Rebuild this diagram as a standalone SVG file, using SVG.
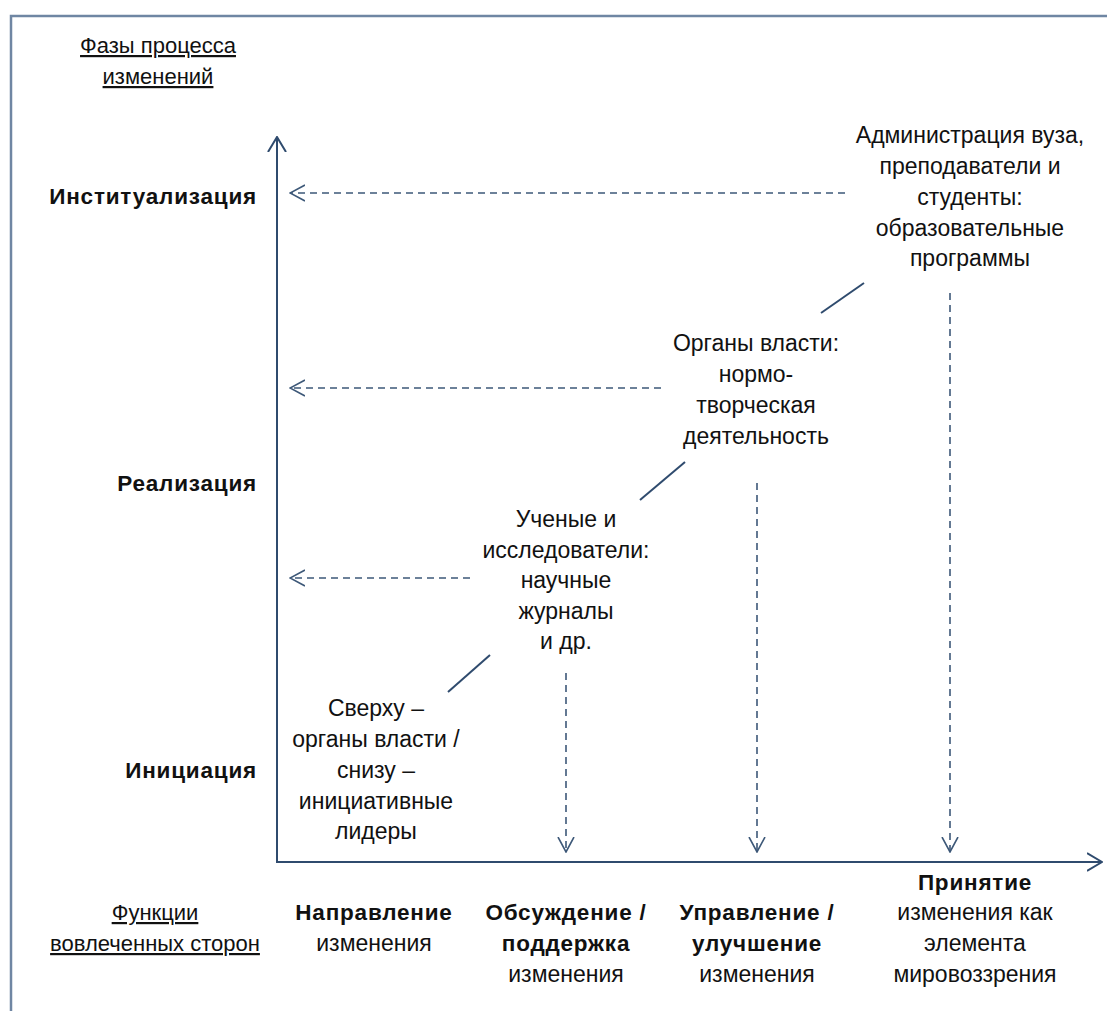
<svg xmlns="http://www.w3.org/2000/svg" width="1107" height="1011" viewBox="0 0 1107 1011">
  <defs>
    <style>
      text { font-family: "Liberation Sans", Arial, sans-serif; font-size: 23px; fill: #111; text-anchor: middle; }
      .b { font-weight: bold; font-size: 22.5px; letter-spacing: 0.8px; }
      .r { text-anchor: end; }
      .u { text-decoration: underline; font-size: 22px; }
      .axis { stroke: #2f4b6e; stroke-width: 2; fill: none; }
      .dash { stroke: #3d5878; stroke-width: 1.6; stroke-dasharray: 7 5; fill: none; }
      .tie { stroke: #2f4b6e; stroke-width: 2; fill: none; }
      .frame { stroke: #6f86a3; stroke-width: 2.5; fill: none; }
    </style>
    <marker id="open" viewBox="0 0 16 20" refX="15" refY="10" markerWidth="16" markerHeight="20" markerUnits="userSpaceOnUse" orient="auto">
      <path d="M0,1 L15,10 L0,19" fill="none" stroke="#2f4b6e" stroke-width="2"/>
    </marker>
    <marker id="openD" viewBox="0 0 16 18" refX="15" refY="9" markerWidth="16" markerHeight="18" markerUnits="userSpaceOnUse" orient="auto">
      <path d="M0,1 L15,9 L0,17" fill="none" stroke="#3d5878" stroke-width="1.6"/>
    </marker>
  </defs>

  <!-- outer frame -->
  <path class="frame" d="M11,1011 V16 H1107"/>

  <!-- axis titles -->
  <g id="phases-title">
    <text class="u" x="158" y="53">Фазы процесса </text>
    <text class="u" x="158" y="84">изменений</text>
  </g>
  <g id="functions-title">
    <text class="u" x="155" y="920">Функции </text>
    <text class="u" x="155" y="951">вовлеченных сторон</text>
  </g>

  <!-- phase labels -->
  <g id="phase-inst"><text class="b r" x="257" y="204">Институализация</text></g>
  <g id="phase-real"><text class="b r" x="257" y="491">Реализация</text></g>
  <g id="phase-init"><text class="b r" x="257" y="778">Инициация</text></g>

  <!-- function labels -->
  <g id="fn-direction">
    <text class="b" x="374" y="920">Направление</text>
    <text x="374" y="951">изменения</text>
  </g>
  <g id="fn-discussion">
    <text class="b" x="566" y="920">Обсуждение /</text>
    <text class="b" x="566" y="951">поддержка</text>
    <text x="566" y="982">изменения</text>
  </g>
  <g id="fn-management">
    <text class="b" x="757" y="920">Управление /</text>
    <text class="b" x="757" y="951">улучшение</text>
    <text x="757" y="982">изменения</text>
  </g>
  <g id="fn-acceptance">
    <text class="b" x="975" y="890">Принятие</text>
    <text x="975" y="920">изменения как</text>
    <text x="975" y="951">элемента</text>
    <text x="975" y="982">мировоззрения</text>
  </g>

  <!-- actors -->
  <g id="actor-top-bottom">
    <text x="376" y="716">Сверху –</text>
    <text x="376" y="747">органы власти /</text>
    <text x="376" y="778">снизу –</text>
    <text x="376" y="809">инициативные</text>
    <text x="376" y="839">лидеры</text>
  </g>
  <g id="actor-scientists">
    <text x="566" y="527">Ученые и</text>
    <text x="566" y="558">исследователи:</text>
    <text x="566" y="588">научные</text>
    <text x="566" y="619">журналы</text>
    <text x="566" y="649">и др.</text>
  </g>
  <g id="actor-authorities">
    <text x="756" y="351">Органы власти:</text>
    <text x="756" y="382">нормо-</text>
    <text x="756" y="413">творческая</text>
    <text x="756" y="444">деятельность</text>
  </g>
  <g id="actor-university">
    <text x="970" y="143">Администрация вуза,</text>
    <text x="970" y="174">преподаватели и</text>
    <text x="970" y="205">студенты:</text>
    <text x="970" y="236">образовательные</text>
    <text x="970" y="266">программы</text>
  </g>

  <!-- connectors -->
  <g id="connectors">
    <!-- axes -->
    <line class="axis" x1="277" y1="863" x2="277" y2="137" marker-end="url(#open)"/>
    <line class="axis" x1="276" y1="862" x2="1102" y2="862" marker-end="url(#open)"/>
    <!-- links between actors -->
    <line class="tie" x1="448" y1="692" x2="490" y2="655"/>
    <line class="tie" x1="640" y1="500" x2="685" y2="462"/>
    <line class="tie" x1="821" y1="313" x2="864" y2="283"/>
    <!-- actors to phases -->
    <line class="dash" x1="845" y1="193" x2="290" y2="193" marker-end="url(#openD)"/>
    <line class="dash" x1="661" y1="388" x2="290" y2="388" marker-end="url(#openD)"/>
    <line class="dash" x1="470" y1="578" x2="290" y2="578" marker-end="url(#openD)"/>
    <!-- actors to functions -->
    <line class="dash" x1="566" y1="673" x2="566" y2="852" marker-end="url(#openD)"/>
    <line class="dash" x1="757" y1="483" x2="757" y2="852" marker-end="url(#openD)"/>
    <line class="dash" x1="950" y1="293" x2="950" y2="852" marker-end="url(#openD)"/>
  </g>
</svg>
